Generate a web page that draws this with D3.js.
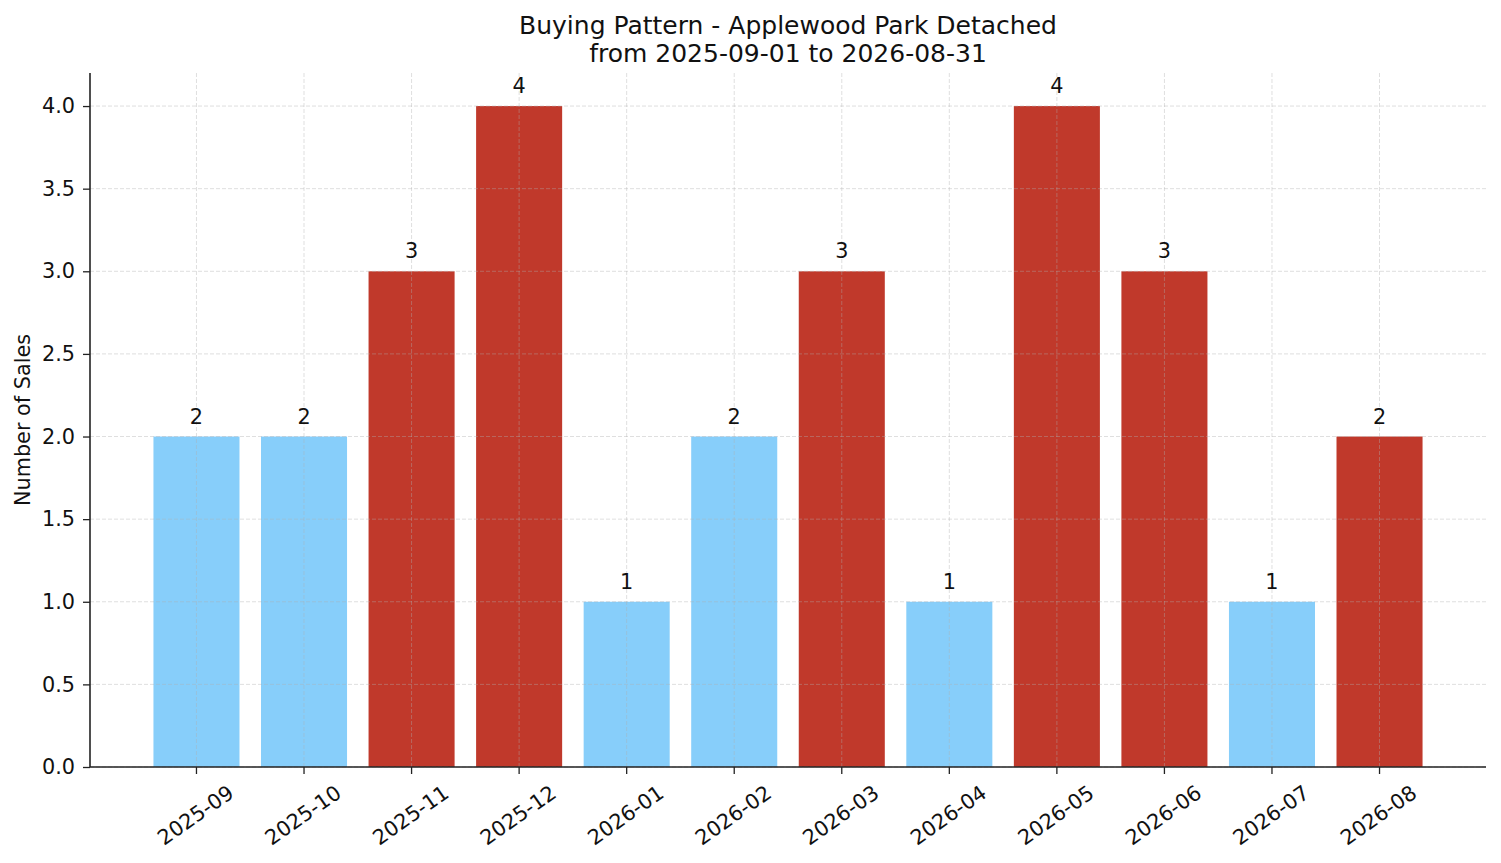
<!DOCTYPE html>
<html>
<head>
<meta charset="utf-8">
<script src="https://cdn.jsdelivr.net/npm/d3@7"></script>
<style>
  body { margin: 0; background: #fff; }
  text { font-family: "DejaVu Sans", sans-serif; fill: #111; }
</style>
</head>
<body>
<script>
// Data
const months = ["2025-09", "2025-10", "2025-11", "2025-12", "2026-01", "2026-02",
                "2026-03", "2026-04", "2026-05", "2026-06", "2026-07", "2026-08"];
const sales = [2, 2, 3, 4, 1, 2, 3, 1, 4, 3, 1, 2];
// which months are shown highlighted (red) in the original
const highlighted = [false, false, true, true, false, false, true, false, true, true, false, true];
const yTicks = [0, 0.5, 1, 1.5, 2, 2.5, 3, 3.5, 4];

const margin = { top: 73, right: 15, bottom: 96, left: 90 };
const width = 1501 - margin.left - margin.right;
const height = 863 - margin.top - margin.bottom;

const svg = d3.select("body")
  .append("svg")
  .attr("width", 1501)
  .attr("height", 863);

const g = svg.append("g")
  .attr("transform", `translate(${margin.left},${margin.top})`);

// X and Y scales (matplotlib-like 5% margins)
const x = d3.scaleBand()
  .domain(months)
  .range([0, width])
  .paddingInner(0.2)
  .paddingOuter(0.59);

const y = d3.scaleLinear()
  .domain([0, 4.2])
  .range([height, 0]);

// Bars
g.selectAll(".bar")
  .data(months)
  .enter().append("rect")
  .attr("class", "bar")
  .attr("x", d => x(d))
  .attr("width", x.bandwidth())
  .attr("y", (d, i) => y(sales[i]))
  .attr("height", (d, i) => height - y(sales[i]))
  .attr("fill", (d, i) => highlighted[i] ? "#c0392b" : "#87cefa");

// Grid (drawn above bars, faint dashed)
const grid = g.append("g").attr("class", "grid");
grid.selectAll(".hgrid")
  .data(yTicks)
  .enter().append("line")
  .attr("x1", 0).attr("x2", width)
  .attr("y1", d => y(d)).attr("y2", d => y(d))
  .attr("stroke", "#b0b0b0")
  .attr("stroke-opacity", 0.5)
  .attr("stroke-dasharray", "4,2")
  .attr("stroke-width", 0.8);
grid.selectAll(".vgrid")
  .data(months)
  .enter().append("line")
  .attr("x1", d => x(d) + x.bandwidth() / 2).attr("x2", d => x(d) + x.bandwidth() / 2)
  .attr("y1", 0).attr("y2", height)
  .attr("stroke", "#b0b0b0")
  .attr("stroke-opacity", 0.5)
  .attr("stroke-dasharray", "4,2")
  .attr("stroke-width", 0.8);

// Value labels
g.selectAll(".val")
  .data(months)
  .enter().append("text")
  .attr("x", d => x(d) + x.bandwidth() / 2)
  .attr("y", (d, i) => y(sales[i]) - 13)
  .attr("text-anchor", "middle")
  .style("font-size", "20.8px")
  .text((d, i) => sales[i]);

// X axis
const xAxis = g.append("g")
  .attr("transform", `translate(0,${height})`)
  .call(d3.axisBottom(x).tickSizeOuter(0).tickSize(7).tickPadding(4));
xAxis.select(".domain").attr("stroke", "#222").attr("stroke-width", 1.6).attr("d", `M0,0H${width}`);
xAxis.selectAll(".tick line").attr("stroke", "#222").attr("stroke-width", 1.3);
xAxis.selectAll(".tick text")
  .style("font-size", "20.8px")
  .attr("text-anchor", "middle")
  .attr("y", 0)
  .attr("dy", "0.35em")
  .attr("transform", "translate(-1,48) rotate(-35)");

// Y axis
const yAxis = g.append("g")
  .call(d3.axisLeft(y).tickValues(yTicks).tickFormat(d3.format(".1f")).tickSizeOuter(0).tickSize(7).tickPadding(8));
yAxis.select(".domain").attr("stroke", "#222").attr("stroke-width", 1.6).attr("d", `M0,${height}V0`);
yAxis.selectAll(".tick line").attr("stroke", "#222").attr("stroke-width", 1.3);
yAxis.selectAll(".tick text").style("font-size", "20.8px");

// Y label
svg.append("text")
  .attr("transform", `translate(30,${margin.top + height / 2}) rotate(-90)`)
  .attr("text-anchor", "middle")
  .style("font-size", "20.8px")
  .text("Number of Sales");

// Title
const title = svg.append("text")
  .attr("x", margin.left + width / 2)
  .attr("text-anchor", "middle")
  .style("font-size", "25px");
title.append("tspan").attr("x", margin.left + width / 2).attr("y", 34).text("Buying Pattern - Applewood Park Detached");
title.append("tspan").attr("x", margin.left + width / 2).attr("y", 62).text("from 2025-09-01 to 2026-08-31");
</script>
</body>
</html>
